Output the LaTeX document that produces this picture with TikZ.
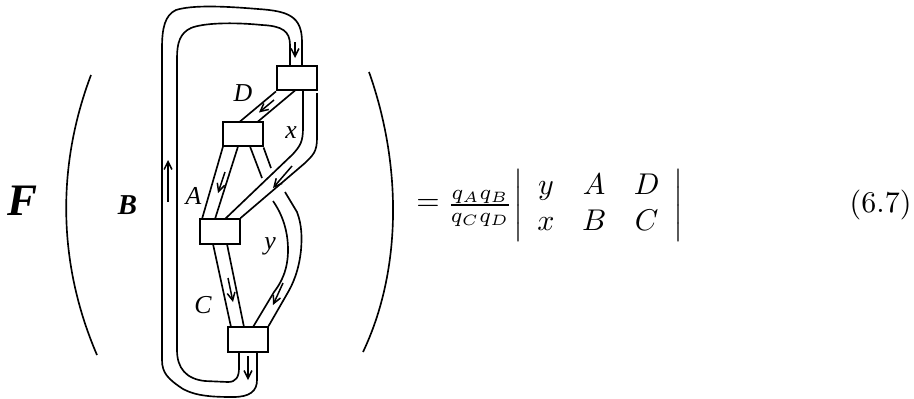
\documentclass[tikz,border=0pt]{standalone}
\usepackage{fontspec}
\newfontfamily\tms{Liberation Serif}
\usetikzlibrary{arrows.meta,calc}
\begin{document}
\begin{tikzpicture}[x=0.33333pt,y=-0.33333pt,
  rib/.style={line width=0.55pt},
  box/.style={draw,line width=0.65pt,minimum width=13.2pt,minimum height=8.3pt,inner sep=0pt,fill=white},
  arr/.style={line width=0.5pt,-{Straight Barb[length=2.6pt,width=2.6pt]}},
  lbl/.style={font=\tms\itshape\fontsize{8.6}{10}\selectfont,inner sep=0pt},
  paren/.style={line width=0.55pt}]
\useasboundingbox (0,0) rectangle (914,398);
% boxes
\node[box] (t) at (296.75,78) {};
\node[box] (d) at (242.75,134) {};
\node[box] (a) at (219.75,231.5) {};
\node[box] (b) at (247.75,339.5) {};
% outer loop B
\draw[rib] (302,65.5) -- (302,42) .. controls (302,16) and (288,11) .. (258,9)
  .. controls (222,6) and (192,5) .. (176,10) .. controls (165,15) and (162,28) .. (162,48)
  -- (162,360) .. controls (162,373) and (168,379) .. (183,389)
  .. controls (196,396) and (212,397) .. (233,397) .. controls (250,397) and (257,391) .. (257,380) -- (257,352);
\draw[rib] (290,65.5) -- (290,45) .. controls (290,31) and (282,26) .. (262,25)
  .. controls (232,22) and (203,23) .. (191,28) .. controls (180,33) and (177,43) .. (177,58)
  -- (177,350) .. controls (177,368) and (186,379) .. (205,381) -- (228,382)
  .. controls (236,382) and (239,377) .. (239,368) -- (239,352);
% D ribbon
\draw[rib] (t.south west) -- (240,121.5);
\draw[rib] (295,90.5) -- (258,121.5);
% x ribbon
\draw[rib] (303,90.5) -- (303,128) .. controls (303,142) and (300,146) .. (293,154) -- (225,219);
\draw[rib] (317,93) -- (317,138) .. controls (317,152) and (313,155) .. (305,163) -- (a.north east);
% A ribbon
\draw[rib] (223,146.5) -- (202,219);
\draw[rib] (238,146.5) -- (215,219);
% y ribbon
\draw[rib] (250,146.5) -- (262,178);
\draw[rib] (d.south east) -- (271,168);
\draw[rib] (273,201) .. controls (282,214) and (288,230) .. (288,250)
  .. controls (288,270) and (281,283) .. (274,292) -- (253,327);
\draw[rib] (285,192) -- (297,212) .. controls (302,225) and (302,238) .. (301,250)
  .. controls (299,270) and (293,284) .. (287,294) -- (b.north east);
% C ribbon
\draw[rib] (213,244) -- (231,327);
\draw[rib] (227,244) -- (244,327);
% arrows
\draw[arr] (295,42) -- (295,58);
\draw[arr] (168,202) -- (168,160);
\draw[arr] (274,100) -- (259,112.5);
\draw[arr] (292,166) -- (273,188);
\draw[arr] (225,172) -- (218,193);
\draw[arr] (283,283) -- (273,305);
\draw[arr] (228,278) -- (233,302);
\draw[arr] (248,356) -- (248,380);
% labels
\node[lbl] (lD) at (243,93) {D};
\node[lbl] (lx) at (291,133) {x};
\node[lbl] (lA) at (193.5,196) {A};
\node[lbl] (ly) at (270,246) {y};
\node[lbl] (lC) at (203,305) {C};
\node[font=\tms\bfseries\itshape\fontsize{9.6}{11}\selectfont,inner sep=0pt] (lB) at (127.5,205) {B};
\node[font=\tms\bfseries\itshape\fontsize{15}{17}\selectfont,inner sep=0pt] (lF) at (23,201) {F};
% parentheses
\draw[paren] (91,75) .. controls (57,165) and (57,262) .. (97,355);
\draw[paren] (369,72) .. controls (402,165) and (402,270) .. (363,352);
% right-hand side
\node[inner sep=0pt] (eqs) at (428,205) {$=$};
\node[inner sep=0pt] (frac) at (480,205) {$\vphantom{(}\smash{\frac{q_Aq_B}{q_Cq_D}}$};
\node[inner sep=0pt] (det) at (598.5,205)
  {$\arraycolsep=4.6pt\left|\begin{array}{ccc} y & A & D\\ x & B & C\end{array}\right|$};
\node[anchor=base east,inner sep=0pt] (eq) at (912,212.5) {(6.7)};
\end{tikzpicture}
\end{document}
